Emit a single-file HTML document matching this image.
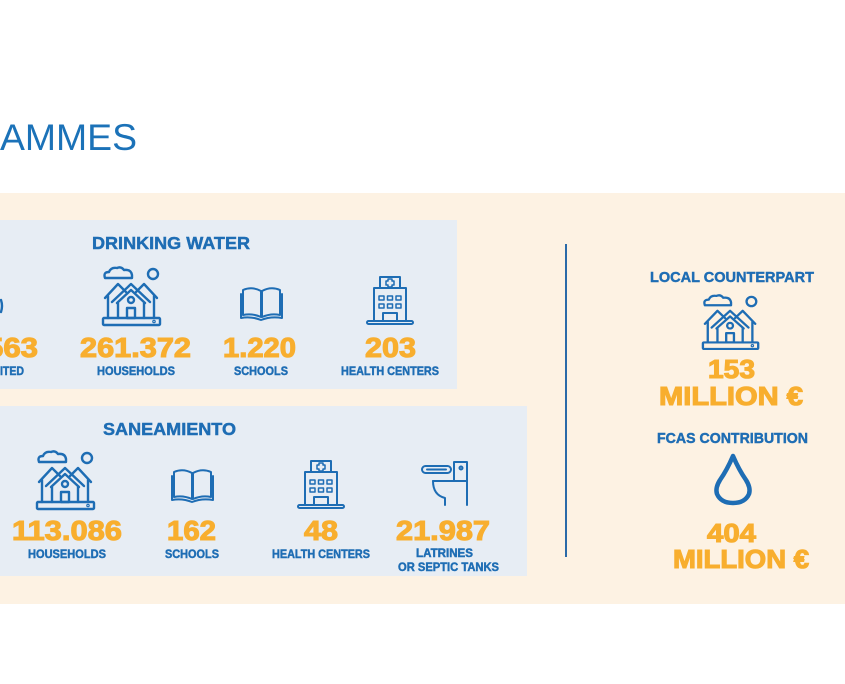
<!DOCTYPE html>
<html><head><meta charset="utf-8"><style>
html,body{margin:0;padding:0;background:#fff;}
svg{display:block;}
text{font-family:"Liberation Sans",sans-serif;}
.b{fill:#1e6db4;font-weight:bold;stroke:#1e6db4;stroke-width:0.45;}
.o{fill:#f8ae2e;font-weight:bold;stroke:#f8ae2e;stroke-width:1.1;}
.ic{fill:none;stroke:#1e6db4;stroke-width:2.4;stroke-linejoin:round;stroke-linecap:round;}
</style></head><body>
<svg width="845" height="684" viewBox="0 0 845 684" xmlns="http://www.w3.org/2000/svg">
<defs>
<g id="house" class="ic">
  <path d="M5,11 Q3,5 9,5 Q11,0 17,1 Q21,-1 24,3 Q31,2 32,8 L32,11 Z"/>
  <circle cx="53" cy="7" r="5"/>
  <rect x="3" y="51" width="57" height="7" rx="1"/>
  <circle cx="54" cy="54.5" r="0.6"/>
  <path d="M5,31 L18,17 L26,25"/>
  <path d="M8,29 L8,51"/>
  <path d="M36,25 L44,17 L57,31"/>
  <path d="M54,29 L54,51"/>
  <path d="M12,35 L31,17 L50,35"/>
  <path d="M17,36 L31,23 L45,36"/>
  <path d="M18,36 L18,51 M44,36 L44,51"/>
  <circle cx="31" cy="33" r="3"/>
  <rect x="27" y="41" width="8" height="10"/>
</g>
<g id="book" class="ic" style="stroke-width:2">
  <path d="M3,4 Q12,0 21,5 L21,31 Q12,27 3,29 Z"/>
  <path d="M40,4 Q31,0 22,5 L22,31 Q31,27 40,29 Z"/>
  <path d="M1,8 L1,32 Q11,30 21,34 Q31,30 42,32 L42,8"/>
</g>
<g id="hosp" class="ic" style="stroke-width:2">
  <rect x="14" y="1" width="20" height="11"/>
  <path d="M22,3 L26,3 L26,5 L28,5 L28,9 L26,9 L26,11 L22,11 L22,9 L20,9 L20,5 L22,5 Z" stroke-width="1.5"/>
  <rect x="8" y="12" width="32" height="33"/>
  <rect x="13" y="20" width="5" height="4" stroke-width="1.5"/>
  <rect x="21.5" y="20" width="5" height="4" stroke-width="1.5"/>
  <rect x="30" y="20" width="5" height="4" stroke-width="1.5"/>
  <rect x="13" y="28" width="5" height="4" stroke-width="1.5"/>
  <rect x="21.5" y="28" width="5" height="4" stroke-width="1.5"/>
  <rect x="30" y="28" width="5" height="4" stroke-width="1.5"/>
  <rect x="17" y="37" width="14" height="8"/>
  <rect x="1" y="45" width="46" height="3" rx="1.5"/>
</g>
<g id="toilet" class="ic" style="stroke-width:2">
  <rect x="1" y="5" width="29" height="7" rx="3.5"/>
  <path d="M6,8.5 L25,8.5"/>
  <rect x="33" y="1" width="13" height="19"/>
  <circle cx="40" cy="7" r="1.5"/>
  <path d="M12,20 L46,20 L46,44"/>
  <path d="M12,20 Q12,34 24,37 L24,44"/>
</g>
</defs>

<!-- title -->
<text x="0" y="150" font-size="37" fill="#1b72b8" textLength="137" lengthAdjust="spacingAndGlyphs">AMMES</text>

<!-- beige panel -->
<rect x="0" y="193" width="845" height="411" fill="#fdf2e3"/>

<!-- boxes -->
<rect x="0" y="220" width="457" height="169" fill="#e7edf4"/>
<rect x="0" y="406" width="527" height="170" fill="#e7edf4"/>

<!-- vertical divider -->
<rect x="565" y="244" width="2" height="313" fill="#2a6aa8"/>

<!-- DRINKING WATER -->
<text class="b" x="92" y="249" font-size="17.5" textLength="158" lengthAdjust="spacingAndGlyphs">DRINKING WATER</text>
<path d="M1,300 Q3,306 1,312" class="ic"/>
<use href="#house" transform="translate(100,267)"/>
<use href="#book" transform="translate(240,286)"/>
<use href="#hosp" transform="translate(366,276)"/>
<text class="o" x="-14" y="357" font-size="28" textLength="52" lengthAdjust="spacingAndGlyphs">563</text>
<text class="o" x="80" y="357" font-size="28" textLength="111" lengthAdjust="spacingAndGlyphs">261.372</text>
<text class="o" x="223" y="357" font-size="28" textLength="73" lengthAdjust="spacingAndGlyphs">1.220</text>
<text class="o" x="365" y="357" font-size="28" textLength="51" lengthAdjust="spacingAndGlyphs">203</text>
<text class="b" x="0" y="375" font-size="11.5" textLength="24" lengthAdjust="spacingAndGlyphs">ITED</text>
<text class="b" x="97" y="375" font-size="11.5" textLength="78" lengthAdjust="spacingAndGlyphs">HOUSEHOLDS</text>
<text class="b" x="234" y="375" font-size="11.5" textLength="54" lengthAdjust="spacingAndGlyphs">SCHOOLS</text>
<text class="b" x="341" y="375" font-size="11.5" textLength="98" lengthAdjust="spacingAndGlyphs">HEALTH CENTERS</text>

<!-- SANEAMIENTO -->
<text class="b" x="103" y="435" font-size="17.5" textLength="133" lengthAdjust="spacingAndGlyphs">SANEAMIENTO</text>
<use href="#house" transform="translate(34,451)"/>
<use href="#book" transform="translate(171,468)"/>
<use href="#hosp" transform="translate(297,460)"/>
<use href="#toilet" transform="translate(421,461)"/>
<text class="o" x="12" y="540" font-size="28" textLength="110" lengthAdjust="spacingAndGlyphs">113.086</text>
<text class="o" x="167" y="540" font-size="28" textLength="49" lengthAdjust="spacingAndGlyphs">162</text>
<text class="o" x="304" y="540" font-size="28" textLength="34" lengthAdjust="spacingAndGlyphs">48</text>
<text class="o" x="396" y="540" font-size="28" textLength="94" lengthAdjust="spacingAndGlyphs">21.987</text>
<text class="b" x="28" y="558" font-size="11.5" textLength="78" lengthAdjust="spacingAndGlyphs">HOUSEHOLDS</text>
<text class="b" x="165" y="558" font-size="11.5" textLength="54" lengthAdjust="spacingAndGlyphs">SCHOOLS</text>
<text class="b" x="272" y="558" font-size="11.5" textLength="98" lengthAdjust="spacingAndGlyphs">HEALTH CENTERS</text>
<text class="b" x="416" y="557" font-size="11.5" textLength="57" lengthAdjust="spacingAndGlyphs">LATRINES</text>
<text class="b" x="398" y="571" font-size="11.5" textLength="101" lengthAdjust="spacingAndGlyphs">OR SEPTIC TANKS</text>

<!-- right -->
<text class="b" x="650" y="282" font-size="15" textLength="164" lengthAdjust="spacingAndGlyphs">LOCAL COUNTERPART</text>
<use href="#house" transform="translate(700,295) scale(0.97,0.93)"/>
<text class="o" x="708" y="378" font-size="26" textLength="47" lengthAdjust="spacingAndGlyphs">153</text>
<text class="o" x="659" y="405" font-size="26" textLength="144" lengthAdjust="spacingAndGlyphs">MILLION €</text>
<text class="b" x="657" y="443" font-size="14.5" textLength="151" lengthAdjust="spacingAndGlyphs">FCAS CONTRIBUTION</text>
<path d="M733,456 Q727,470 720,480 Q715,488 717,494 Q721,503 733,503 Q745,503 749,494 Q751,488 746,480 Q739,470 733,456 Z" fill="none" stroke="#1e6db4" stroke-width="4.5" stroke-linejoin="round"/>
<text class="o" x="707" y="542" font-size="26" textLength="49" lengthAdjust="spacingAndGlyphs">404</text>
<text class="o" x="673" y="568" font-size="26" textLength="136" lengthAdjust="spacingAndGlyphs">MILLION €</text>
</svg>
</body></html>
